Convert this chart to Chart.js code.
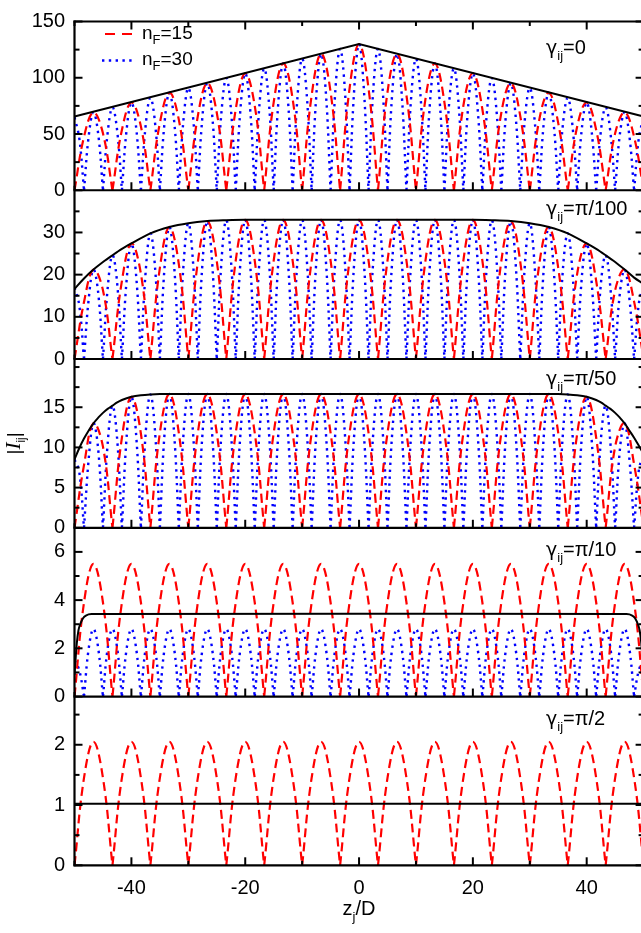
<!DOCTYPE html>
<html>
<head>
<meta charset="utf-8">
<script src="https://cdn.jsdelivr.net/npm/chart.js@4.4.1/dist/chart.umd.min.js"></script>
<style>
  html, body { margin: 0; padding: 0; background: #fff; overflow: hidden; }
  #wrap { width: 641px; height: 933px; overflow: hidden; position: relative; }
  canvas { display: block; }
</style>
</head>
<body>
<div id="wrap"><canvas id="chart" width="650" height="933"></canvas></div>
<script>
const FONT = '"Liberation Sans", Arial, Helvetica, sans-serif';
const GREEK = '"DejaVu Sans", "Liberation Sans", sans-serif';
const SERIF = '"Liberation Serif", "DejaVu Serif", serif';

// ===== DATA =====
// sample positions along z_j/D (red: n_F=15, blue: n_F=30)
const zRed = [-50, -48.33, -46.67, -45, -43.33, -41.67, -40, -38.33, -36.67, -35,
  -33.33, -31.67, -30, -28.33, -26.67, -25, -23.33, -21.67, -20, -18.33,
  -16.67, -15, -13.33, -11.67, -10, -8.33, -6.67, -5, -3.33, -1.67,
  0, 1.67, 3.33, 5, 6.67, 8.33, 10, 11.67, 13.33, 15,
  16.67, 18.33, 20, 21.67, 23.33, 25, 26.67, 28.33, 30, 31.67,
  33.33, 35, 36.67, 38.33, 40, 41.67, 43.33, 45, 46.67, 48.33, 50];

const zBlue = [-50, -49.17, -48.33, -47.5, -46.67, -45.83, -45, -44.17, -43.33, -42.5,
  -41.67, -40.83, -40, -39.17, -38.33, -37.5, -36.67, -35.83, -35, -34.17,
  -33.33, -32.5, -31.67, -30.83, -30, -29.17, -28.33, -27.5, -26.67, -25.83,
  -25, -24.17, -23.33, -22.5, -21.67, -20.83, -20, -19.17, -18.33, -17.5,
  -16.67, -15.83, -15, -14.17, -13.33, -12.5, -11.67, -10.83, -10, -9.17,
  -8.33, -7.5, -6.67, -5.83, -5, -4.17, -3.33, -2.5, -1.67, -0.83,
  0, 0.83, 1.67, 2.5, 3.33, 4.17, 5, 5.83, 6.67, 7.5,
  8.33, 9.17, 10, 10.83, 11.67, 12.5, 13.33, 14.17, 15, 15.83,
  16.67, 17.5, 18.33, 19.17, 20, 20.83, 21.67, 22.5, 23.33, 24.17,
  25, 25.83, 26.67, 27.5, 28.33, 29.17, 30, 30.83, 31.67, 32.5,
  33.33, 34.17, 35, 35.83, 36.67, 37.5, 38.33, 39.17, 40, 40.83,
  41.67, 42.5, 43.33, 44.17, 45, 45.83, 46.67, 47.5, 48.33, 49.17, 50];

// panel 1: gamma = 0
const red1 = [0, 47.5, 69.3, 50.6, 0, 53.6, 78, 56.7, 0, 59.7, 86.7, 62.8,
  0, 65.9, 95.3, 68.9, 0, 72.0, 104, 75.1, 0, 78.1, 112.7, 81.2,
  0, 84.3, 121.3, 87.3, 0, 90.4, 130, 90.4, 0, 87.3, 121.3, 84.3,
  0, 81.2, 112.7, 78.1, 0, 75.1, 104, 72.0, 0, 68.9, 95.3, 65.9,
  0, 62.8, 86.7, 59.7, 0, 56.7, 78, 53.6, 0, 50.6, 69.3, 47.5, 0];
const blue1 = [65, 46.7, 0, 48.3, 69.3, 49.8, 0, 51.3, 73.7, 52.8, 0, 54.4,
  78, 55.9, 0, 57.4, 82.3, 59.0, 0, 60.5, 86.7, 62.0, 0, 63.6,
  91, 65.1, 0, 66.6, 95.3, 68.2, 0, 69.7, 99.7, 71.2, 0, 72.8,
  104, 74.3, 0, 75.8, 108.3, 77.3, 0, 78.9, 112.7, 80.4, 0, 81.9,
  117, 83.5, 0, 85.0, 121.3, 86.5, 0, 88.1, 125.7, 89.6, 0, 91.1,
  130,
  91.1, 0, 89.6, 125.7, 88.1, 0, 86.5, 121.3, 85.0, 0, 83.5, 117,
  81.9, 0, 80.4, 112.7, 78.9, 0, 77.3, 108.3, 75.8, 0, 74.3, 104,
  72.8, 0, 71.2, 99.7, 69.7, 0, 68.2, 95.3, 66.6, 0, 65.1, 91,
  63.6, 0, 62.0, 86.7, 60.5, 0, 59.0, 82.3, 57.4, 0, 55.9, 78,
  54.4, 0, 52.8, 73.7, 51.3, 0, 49.8, 69.3, 48.3, 0, 46.7, 65];
const envX1 = [-50, 0, 50];
const envY1 = [65.5, 130, 65.5];

// panel 2: gamma = pi/100
const red2 = [0, 13.5, 21.2, 16.3, 0, 18.5, 27.4, 20.2, 0, 21.6, 31.3, 22.5,
  0, 23.0, 32.7, 23.2, 0, 23.3, 33.0, 23.3, 0, 23.3, 33.0, 23.3,
  0, 23.3, 33.0, 23.3, 0, 23.3, 33.0, 23.3, 0, 23.3, 33.0, 23.3,
  0, 23.3, 33.0, 23.3, 0, 23.3, 33.0, 23.3, 0, 23.2, 32.7, 23.0,
  0, 22.5, 31.3, 21.6, 0, 20.2, 27.4, 18.5, 0, 16.3, 21.2, 13.6, 0];
const blue2 = [17.0, 12.8, 0, 14.3, 21.2, 15.6, 0, 16.8, 24.6, 17.9, 0, 18.9,
  27.4, 19.8, 0, 20.6, 29.8, 21.4, 0, 21.9, 31.3, 22.3, 0, 22.6,
  32.2, 22.9, 0, 23.0, 32.7, 23.2, 0, 23.3, 32.9, 23.3, 0, 23.3,
  33.0, 23.3, 0, 23.3, 33.0, 23.3, 0, 23.3, 33.0, 23.3, 0, 23.3,
  33.0, 23.3, 0, 23.3, 33.0, 23.3, 0, 23.3, 33.0, 23.3, 0, 23.3,
  33.0,
  23.3, 0, 23.3, 33.0, 23.3, 0, 23.3, 33.0, 23.3, 0, 23.3, 33.0,
  23.3, 0, 23.3, 33.0, 23.3, 0, 23.3, 33.0, 23.3, 0, 23.3, 33.0,
  23.3, 0, 23.3, 32.9, 23.3, 0, 23.2, 32.7, 23.0, 0, 22.9, 32.2,
  22.6, 0, 22.3, 31.3, 21.9, 0, 21.4, 29.8, 20.6, 0, 19.8, 27.4,
  18.9, 0, 17.9, 24.6, 16.8, 0, 15.6, 21.2, 14.4, 0, 13.2, 17.8];
const envX2 = [-50, -48.33, -46.67, -45, -43.33, -41.67, -40, -36.67, -33.33, -30, -26.67, -23.33, -20,
  0, 20, 23.33, 26.67, 30, 33.33, 36.67, 40, 41.67, 43.33, 45, 46.67, 48.33, 50];
const envY2 = [16.6, 19.1, 21.2, 23.0, 24.6, 26.1, 27.4, 29.8, 31.3, 32.2, 32.7, 32.9, 33.0,
  33.0, 33.0, 32.9, 32.7, 32.2, 31.3, 29.8, 27.4, 26.1, 24.6, 23.0, 21.2, 19.3, 17.8];

// panel 3: gamma = pi/50
const red3 = [0, 7.8, 13.0, 10.1, 0, 11.2, 16.3, 11.7, 0, 11.8, 16.65, 11.8,
  0, 11.8, 16.65, 11.8, 0, 11.8, 16.65, 11.8, 0, 11.8, 16.65, 11.8,
  0, 11.8, 16.65, 11.8, 0, 11.8, 16.65, 11.8, 0, 11.8, 16.65, 11.8,
  0, 11.8, 16.65, 11.8, 0, 11.8, 16.65, 11.8, 0, 11.8, 16.65, 11.8,
  0, 11.8, 16.65, 11.8, 0, 11.7, 16.3, 11.2, 0, 10.1, 13.0, 7.9, 0];
const blue3 = [8.5, 7.0, 0, 8.6, 13.0, 9.7, 0, 10.5, 15.2, 11.0, 0, 11.4,
  16.3, 11.6, 0, 11.7, 16.6, 11.8, 0, 11.8, 16.65, 11.8, 0, 11.8,
  16.65, 11.8, 0, 11.8, 16.65, 11.8, 0, 11.8, 16.65, 11.8, 0, 11.8,
  16.65, 11.8, 0, 11.8, 16.65, 11.8, 0, 11.8, 16.65, 11.8, 0, 11.8,
  16.65, 11.8, 0, 11.8, 16.65, 11.8, 0, 11.8, 16.65, 11.8, 0, 11.8,
  16.65,
  11.8, 0, 11.8, 16.65, 11.8, 0, 11.8, 16.65, 11.8, 0, 11.8, 16.65,
  11.8, 0, 11.8, 16.65, 11.8, 0, 11.8, 16.65, 11.8, 0, 11.8, 16.65,
  11.8, 0, 11.8, 16.65, 11.8, 0, 11.8, 16.65, 11.8, 0, 11.8, 16.65,
  11.8, 0, 11.8, 16.65, 11.8, 0, 11.8, 16.6, 11.7, 0, 11.6, 16.3,
  11.4, 0, 11.0, 15.2, 10.5, 0, 9.7, 13.0, 8.6, 0, 7.2, 9.2];
const envX3 = [-50, -49.17, -48.33, -47.5, -46.67, -45.83, -45, -44.17, -43.33, -42.5, -41.67, -40, -38.33, -36.67, -35,
  0, 35, 36.67, 38.33, 40, 41.67, 42.5, 43.33, 44.17, 45, 45.83, 46.67, 47.5, 48.33, 49.17, 50];
const envY3 = [8.5, 9.9, 11.1, 12.1, 13.0, 13.7, 14.3, 14.8, 15.2, 15.6, 15.9, 16.3, 16.5, 16.6, 16.65,
  16.65, 16.65, 16.6, 16.5, 16.3, 15.9, 15.6, 15.2, 14.8, 14.3, 13.7, 13.0, 12.1, 11.2, 10.2, 9.2];

// panel 4: gamma = pi/10
const red4 = [0, 3.9, 5.5, 3.9, 0, 3.9, 5.5, 3.9, 0, 3.9, 5.5, 3.9,
  0, 3.9, 5.5, 3.9, 0, 3.9, 5.5, 3.9, 0, 3.9, 5.5, 3.9,
  0, 3.9, 5.5, 3.9, 0, 3.9, 5.5, 3.9, 0, 3.9, 5.5, 3.9,
  0, 3.9, 5.5, 3.9, 0, 3.9, 5.5, 3.9, 0, 3.9, 5.5, 3.9,
  0, 3.9, 5.5, 3.9, 0, 3.9, 5.5, 3.9, 0, 3.9, 5.5, 3.9, 0];
const blue4 = [1.5, 1.1, 0, 2.0, 2.8, 2.0, 0, 2.0, 2.8, 2.0, 0, 2.0,
  2.8, 2.0, 0, 2.0, 2.8, 2.0, 0, 2.0, 2.8, 2.0, 0, 2.0,
  2.8, 2.0, 0, 2.0, 2.8, 2.0, 0, 2.0, 2.8, 2.0, 0, 2.0,
  2.8, 2.0, 0, 2.0, 2.8, 2.0, 0, 2.0, 2.8, 2.0, 0, 2.0,
  2.8, 2.0, 0, 2.0, 2.8, 2.0, 0, 2.0, 2.8, 2.0, 0, 2.0,
  2.8,
  2.0, 0, 2.0, 2.8, 2.0, 0, 2.0, 2.8, 2.0, 0, 2.0, 2.8,
  2.0, 0, 2.0, 2.8, 2.0, 0, 2.0, 2.8, 2.0, 0, 2.0, 2.8,
  2.0, 0, 2.0, 2.8, 2.0, 0, 2.0, 2.8, 2.0, 0, 2.0, 2.8,
  2.0, 0, 2.0, 2.8, 2.0, 0, 2.0, 2.8, 2.0, 0, 2.0, 2.8,
  2.0, 0, 2.0, 2.8, 2.0, 0, 2.0, 2.8, 2.0, 0, 1.1, 1.5];
const envX4 = [-50, -49.6, -49.3, -49, -48.5, -48, -47, 0, 47, 48, 48.5, 49, 49.3, 49.6, 50];
const envY4 = [0.9, 2.2, 2.75, 3.0, 3.25, 3.36, 3.42, 3.43, 3.42, 3.36, 3.25, 3.0, 2.75, 2.2, 0.9];

// panel 5: gamma = pi/2 (no n_F=30 curve visible)
const red5 = [0, 1.45, 2.05, 1.45, 0, 1.45, 2.05, 1.45, 0, 1.45, 2.05, 1.45,
  0, 1.45, 2.05, 1.45, 0, 1.45, 2.05, 1.45, 0, 1.45, 2.05, 1.45,
  0, 1.45, 2.05, 1.45, 0, 1.45, 2.05, 1.45, 0, 1.45, 2.05, 1.45,
  0, 1.45, 2.05, 1.45, 0, 1.45, 2.05, 1.45, 0, 1.45, 2.05, 1.45,
  0, 1.45, 2.05, 1.45, 0, 1.45, 2.05, 1.45, 0, 1.45, 2.05, 1.45, 0];
const envX5 = [-50, 50];
const envY5 = [1.02, 1.02];

// ticks
const xTicks = [-40, -20, 0, 20, 40];
const xMinor = [-50, -30, -10, 10, 30, 50];
const yMax = [150, 40, 21, 7, 2.8];
const yTicks1 = [0, 50, 100, 150], yMinor1 = [25, 75, 125];
const yTicks2 = [0, 10, 20, 30], yMinor2 = [5, 15, 25, 35];
const yTicks3 = [0, 5, 10, 15], yMinor3 = [2.5, 7.5, 12.5, 17.5, 20];
const yTicks4 = [0, 2, 4, 6], yMinor4 = [1, 3, 5];
const yTicks5 = [0, 1, 2], yMinor5 = [0.5, 1.5, 2.5];

const gammaLabels = ['=0', '=\u03c0/100', '=\u03c0/50', '=\u03c0/10', '=\u03c0/2'];
const legendLabels = ['=15', '=30'];

// ===== HELPERS =====
// split the curve at its zeros so each lobe keeps a sharp cusp
function lobePoints(xs, ys) {
    const pts = [];
    xs.forEach((x, i) => {
        pts.push({ x: x, y: ys[i] });
        if (ys[i] === 0 && i > 0 && i < xs.length - 1) {
            pts.push({ x: x, y: null }, { x: x, y: 0 });
        }
    });
    return pts;
}

function linePoints(xs, ys) {
    return xs.map((x, i) => ({ x: x, y: ys[i] }));
}

const panels = [
    { red: red1, blue: blue1, envX: envX1, envY: envY1, ticks: yTicks1, minor: yMinor1, labelDy: 32.5 },
    { red: red2, blue: blue2, envX: envX2, envY: envY2, ticks: yTicks2, minor: yMinor2, labelDy: 25 },
    { red: red3, blue: blue3, envX: envX3, envY: envY3, ticks: yTicks3, minor: yMinor3, labelDy: 26 },
    { red: red4, blue: blue4, envX: envX4, envY: envY4, ticks: yTicks4, minor: yMinor4, labelDy: 28 },
    { red: red5, blue: null, envX: envX5, envY: envY5, ticks: yTicks5, minor: yMinor5, labelDy: 28.5 }
];

const datasets = [];
panels.forEach((p, k) => {
    const yId = 'y' + (k + 1);
    if (p.blue) {
        datasets.push({
            data: lobePoints(zBlue, p.blue), yAxisID: yId,
            borderColor: '#0000ff', borderWidth: 2.4, borderDash: [2.4, 4.6],
            tension: 0.4, order: 2
        });
    }
    datasets.push({
        data: lobePoints(zRed, p.red), yAxisID: yId,
        borderColor: '#ff0000', borderWidth: 2.2, borderDash: [9, 5],
        tension: 0.4, order: 1
    });
    datasets.push({
        data: linePoints(p.envX, p.envY), yAxisID: yId,
        borderColor: '#000000', borderWidth: 2,
        tension: 0, cubicInterpolationMode: k === 0 ? 'default' : 'monotone', order: 0
    });
});

const scales = {
    x: {
        type: 'linear', position: 'bottom', min: -50, max: 50,
        afterBuildTicks: s => { s.ticks = xTicks.map(v => ({ value: v })); },
        afterFit: s => { s.height = 67.7; },
        grid: { display: false, drawTicks: false },
        border: { display: false },
        ticks: { padding: 11, color: '#000', autoSkip: false, maxRotation: 0, font: { family: FONT, size: 20 } }
    }
};
panels.forEach((p, k) => {
    scales['y' + (k + 1)] = {
        type: 'linear', position: 'left', stack: 'panels', stackWeight: 1, weight: 5 - k,
        min: 0, max: yMax[k],
        afterBuildTicks: s => { s.ticks = p.ticks.map(v => ({ value: v })); },
        afterFit: s => { s.width = 74.5; },
        grid: { display: false, drawTicks: false },
        border: { display: false },
        ticks: { padding: 9.5, color: '#000', autoSkip: false, font: { family: FONT, size: 20 } }
    };
});

// ===== DRAWING HELPERS =====
function fontOf(p) {
    return (p.italic ? 'italic ' : '') + p.size + 'px ' + (p.family || FONT);
}

function richWidth(ctx, parts) {
    let w = 0;
    parts.forEach(p => {
        ctx.font = fontOf(p);
        w += ctx.measureText(p.t).width;
    });
    return w;
}

function drawRich(ctx, x, y, parts) {
    let cx = x;
    parts.forEach(p => {
        ctx.font = fontOf(p);
        ctx.fillText(p.t, cx, y + (p.dy || 0));
        cx += ctx.measureText(p.t).width;
    });
}

// frame lines and inward tick marks
const framePlugin = {
    id: 'frame',
    afterDatasetsDraw(chart) {
        const { ctx, chartArea: a, scales: sc } = chart;
        const sx = sc.x;
        ctx.save();
        ctx.strokeStyle = '#000';
        ctx.setLineDash([]);
        const seg = (x1, y1, x2, y2, w) => {
            ctx.lineWidth = w;
            ctx.beginPath();
            ctx.moveTo(x1, y1);
            ctx.lineTo(x2, y2);
            ctx.stroke();
        };
        panels.forEach((p, k) => {
            const sy = sc['y' + (k + 1)];
            p.ticks.forEach(v => {
                const y = sy.getPixelForValue(v);
                seg(a.left, y, a.left + 8, y, 2);
                seg(a.right, y, a.right - 8, y, 2);
            });
            p.minor.forEach(v => {
                const y = sy.getPixelForValue(v);
                seg(a.left, y, a.left + 5, y, 2);
                seg(a.right, y, a.right - 5, y, 2);
            });
            xTicks.forEach(v => {
                const x = sx.getPixelForValue(v);
                seg(x, sy.bottom, x, sy.bottom - 8, 2);
            });
            xMinor.forEach(v => {
                const x = sx.getPixelForValue(v);
                seg(x, sy.bottom, x, sy.bottom - 4.5, 2);
            });
            seg(a.left - 1, sy.bottom, a.right + 1, sy.bottom, 2.2);
        });
        // top edge of the first panel
        xTicks.forEach(v => {
            const x = sx.getPixelForValue(v);
            seg(x, a.top, x, a.top + 8, 2);
        });
        xMinor.forEach(v => {
            const x = sx.getPixelForValue(v);
            seg(x, a.top, x, a.top + 4.5, 2);
        });
        seg(a.left - 1, a.top, a.right + 1, a.top, 2.2);
        seg(a.left, a.top - 1, a.left, a.bottom + 1, 2.2);
        seg(a.right, a.top - 1, a.right, a.bottom + 1, 2.2);
        ctx.restore();
    }
};

// legend, panel labels and axis titles (with subscripts)
const textPlugin = {
    id: 'texts',
    afterDraw(chart) {
        const { ctx, chartArea: a, scales: sc } = chart;
        ctx.save();
        ctx.fillStyle = '#000';
        ctx.textBaseline = 'alphabetic';
        ctx.textAlign = 'left';

        // legend
        ctx.lineWidth = 2.2;
        ctx.strokeStyle = '#ff0000';
        ctx.setLineDash([10, 7]);
        ctx.beginPath(); ctx.moveTo(105, 34); ctx.lineTo(132, 34); ctx.stroke();
        ctx.lineWidth = 2.4;
        ctx.strokeStyle = '#0000ff';
        ctx.setLineDash([2.4, 4.4]);
        ctx.beginPath(); ctx.moveTo(102, 60.5); ctx.lineTo(134, 60.5); ctx.stroke();
        ctx.setLineDash([]);
        legendLabels.forEach((t, i) => {
            drawRich(ctx, 142, 38.5 + i * 26.3, [
                { t: 'n', size: 19 },
                { t: 'F', size: 13, dy: 5 },
                { t: t, size: 19 }
            ]);
        });

        // gamma labels
        panels.forEach((p, k) => {
            const sy = sc['y' + (k + 1)];
            drawRich(ctx, 546, sy.top + p.labelDy, [
                { t: '\u03b3', size: 19, family: GREEK },
                { t: 'ij', size: 13, dy: 6 },
                { t: gammaLabels[k], size: 20 }
            ]);
        });

        // x title
        const xParts = [{ t: 'z', size: 20 }, { t: 'j', size: 13, dy: 6 }, { t: '/D', size: 20 }];
        const xw = richWidth(ctx, xParts);
        drawRich(ctx, (a.left + a.right) / 2 - xw / 2, 915, xParts);

        // y title
        const yParts = [
            { t: '|', size: 19 },
            { t: 'I', size: 21, italic: true, family: SERIF },
            { t: 'ij', size: 12, dy: 5 },
            { t: '|', size: 19 }
        ];
        const yw = richWidth(ctx, yParts);
        ctx.translate(20, (a.top + a.bottom) / 2);
        ctx.rotate(-Math.PI / 2);
        drawRich(ctx, -yw / 2, 0, yParts);
        ctx.restore();
    }
};

new Chart(document.getElementById('chart'), {
    type: 'line',
    data: { datasets: datasets },
    options: {
        responsive: false,
        animation: false,
        layout: { padding: { top: 12, right: 6.4, left: 0, bottom: 0 } },
        elements: { point: { radius: 0 }, line: { fill: false } },
        plugins: { legend: { display: false }, tooltip: { enabled: false } },
        scales: scales
    },
    plugins: [framePlugin, textPlugin]
});
</script>
</body>
</html>
